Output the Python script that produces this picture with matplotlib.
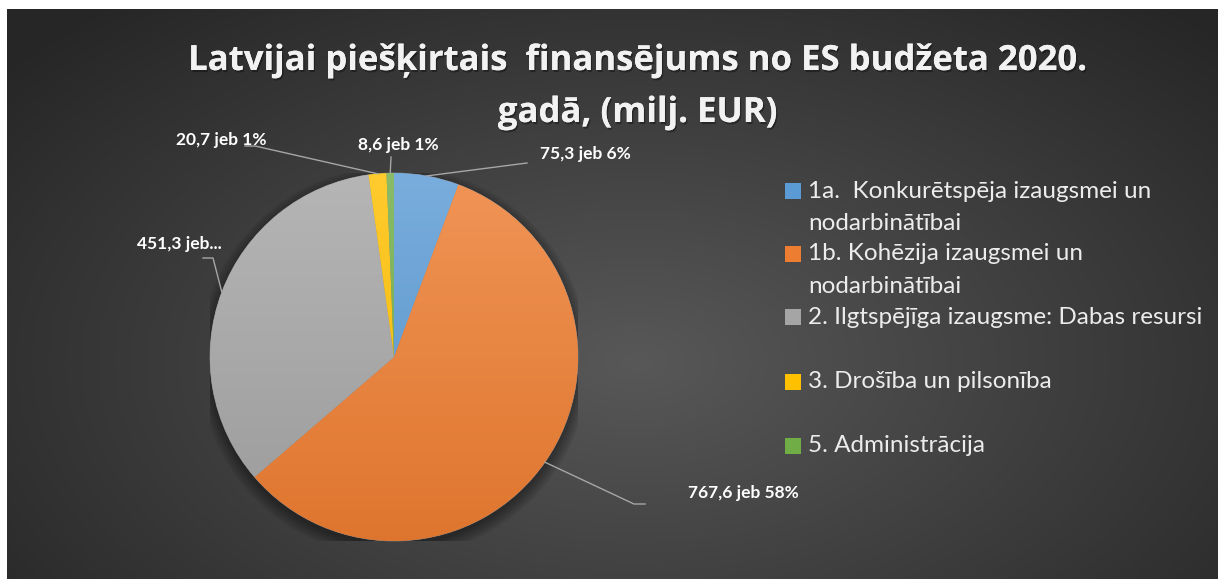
import numpy as np
import matplotlib
matplotlib.use('Agg')
import matplotlib.pyplot as plt
import matplotlib.patheffects as pe
from matplotlib.colors import to_rgb
from matplotlib.patches import Rectangle, Circle

W, H = 1219, 579

title_lines = ['Latvijai piešķirtais  finansējums no ES budžeta 2020.', 'gadā, (milj. EUR)']
categories = ['1a.  Konkurētspēja izaugsmei un\nnodarbinātībai',
              '1b. Kohēzija izaugsmei un\nnodarbinātībai',
              '2. Ilgtspējīga izaugsme: Dabas resursi',
              '3. Drošība un pilsonība',
              '5. Administrācija']
values = [75.3, 767.6, 451.3, 20.7, 8.6]
value_labels = ['75,3 jeb 6%', '767,6 jeb 58%', '451,3 jeb...', '20,7 jeb 1%', '8,6 jeb 1%']
colors = ['#5B9BD5', '#ED7D31', '#A5A5A5', '#FFC000', '#70AD47']

# pie placement in pixels
CX, CY, R = 394, 357, 184


def fig_xy(x, y):
    return x / W, 1 - y / H


def pie_xy(x, y):
    return (x - CX) / R, (CY - y) / R


def draw_background(fig):
    bg = fig.add_axes([7 / W, 0, (W - 8) / W, (H - 9) / H])
    bg.set_axis_off()
    ny, nx = 300, 600
    yy, xx = np.mgrid[0:1:ny * 1j, 0:1:nx * 1j]
    d = np.sqrt(((xx - 0.52) / 0.5) ** 2 + ((yy - 0.62) / 0.62) ** 2) / 1.35
    d = np.clip(d, 0, 1)
    inner = np.array([0x58, 0x58, 0x58]) / 255
    outer = np.array([0x26, 0x26, 0x26]) / 255
    img = inner[None, None, :] * (1 - d[..., None]) + outer[None, None, :] * d[..., None]
    bg.imshow(img, extent=[0, 1, 0, 1], origin='upper', aspect='auto', interpolation='bilinear')
    bg.set_xlim(0, 1)
    bg.set_ylim(0, 1)


def shade(color, top, bottom, n=200):
    c = np.array(to_rgb(color))
    t = np.linspace(0, 1, n)[:, None]
    light = c + (1 - c) * top
    dark = c * (1 - bottom)
    col = light * (1 - t) + dark * t
    return np.repeat(col[:, None, :], 2, axis=1)


def main():
    fig = plt.figure(figsize=(W / 100, H / 100), dpi=100, facecolor='white')
    draw_background(fig)

    ax = fig.add_axes([(CX - R) / W, (H - CY - R) / H, 2 * R / W, 2 * R / H])
    ax.set_axis_off()

    # soft shadow under the pie
    for k in range(6):
        ax.add_patch(Circle((0.0, -0.025), 1.0 + 0.012 * k, color='black', alpha=0.07, lw=0, zorder=0))

    wedges, _ = ax.pie(values, colors=colors, startangle=90, counterclock=False,
                       radius=1, center=(0, 0), frame=True,
                       wedgeprops=dict(linewidth=0.5, edgecolor='#8a8a8a'))
    ax.set_xlim(-1, 1)
    ax.set_ylim(-1, 1)
    ax.set_axis_off()
    for w, c in zip(wedges, colors):
        im = ax.imshow(shade(c, 0.18, 0.06), extent=[-1, 1, -1, 1], aspect='auto',
                       origin='upper', zorder=2)
        im.set_clip_path(w)

    # data labels with leader lines
    label_pos = {  # text anchor (pixels), leader end points (pixels)
        0: dict(text=(540, 154), ha='left', path=[(527, 163)]),
        1: dict(text=(688, 493), ha='left', path=[(634, 504), (645, 504)]),
        2: dict(text=(222, 244), ha='right', path=[(213, 258), (203, 258)]),
        3: dict(text=(267, 140), ha='right', path=[(255, 146), (245, 146)]),
        4: dict(text=(398, 145), ha='center', path=[(391, 157)]),
    }
    for i, w in enumerate(wedges):
        mid = np.deg2rad((w.theta1 + w.theta2) / 2)
        pts = [(np.cos(mid), np.sin(mid))] + [pie_xy(*p) for p in label_pos[i]['path']]
        xs, ys = zip(*pts)
        ax.plot(xs, ys, color='#a6a6a6', lw=1.0, clip_on=False, zorder=3)
        tx, ty = fig_xy(*label_pos[i]['text'])
        fig.text(tx, ty, value_labels[i], ha=label_pos[i]['ha'], va='center',
                 color='white', fontsize=12.5, fontweight='bold', family='Lato')

    # title, one text per line
    for line, y in zip(title_lines, [61, 113]):
        t = fig.text(*fig_xy(638, y), line, ha='center', va='center',
                     color='#f2f2f2', fontsize=25, fontweight='bold', family='Open Sans')
        t.set_path_effects([pe.withSimplePatchShadow(offset=(1, -1.5), shadow_rgbFace='black', alpha=0.35),
                            pe.Normal()])

    # legend
    legend_rows = [191, 254, 317, 382, 446]
    for lab, c, y in zip(categories, colors, legend_rows):
        x0, y0 = fig_xy(785, y + 8)
        fig.patches.append(Rectangle((x0, y0), 16 / W, 16 / H, transform=fig.transFigure,
                                     facecolor=c, edgecolor='none'))
        for k, line in enumerate(lab.split('\n')):
            fig.text(*fig_xy(808, y + 32 * k), line, ha='left', va='center',
                     color='#ececec', fontsize=17.5, family='Lato')

    fig.savefig('out.png', dpi=100, facecolor=fig.get_facecolor())


if __name__ == '__main__':
    main()
